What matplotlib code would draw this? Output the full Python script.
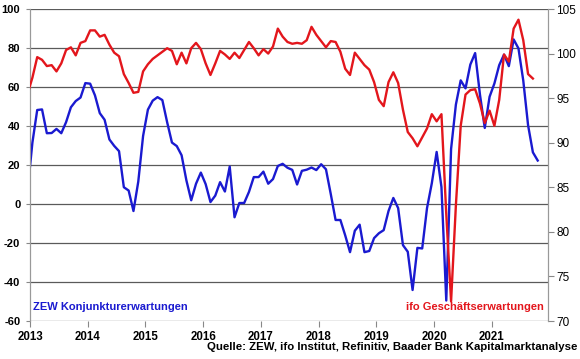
import matplotlib.pyplot as plt
import numpy as np

plt.rcParams["font.family"] = ["Liberation Sans", "DejaVu Sans"]

# monthly values, first point Dec 2012
START = (2012, 12)

ZEW = [
    6.9,
    31.5, 48.2, 48.5, 36.3, 36.4, 38.5, 36.3, 42.0, 49.6, 52.8, 54.6, 62.0,
    61.7, 55.7, 46.6, 43.2, 33.1, 29.8, 27.1, 8.6, 6.9, -3.6, 11.5, 34.9,
    48.4, 53.0, 54.8, 53.3, 41.9, 31.5, 29.7, 25.0, 12.1, 1.9, 10.4, 16.1,
    10.2, 1.0, 4.3, 11.2, 6.4, 19.2, -6.8, 0.5, 0.5, 6.2, 13.8, 13.8,
    16.6, 10.4, 12.8, 19.5, 20.6, 18.6, 17.5, 10.0, 17.0, 17.6, 18.7, 17.4,
    20.4, 17.8, 5.1, -8.2, -8.2, -16.1, -24.7, -13.7, -10.6, -24.7, -24.1, -17.5,
    -15.0, -13.4, -3.6, 3.1, -2.1, -21.1, -24.5, -44.1, -22.5, -22.8, -2.1, 10.7,
    26.7, 8.7, -49.5, 28.2, 51.0, 63.4, 59.3, 71.5, 77.4, 56.1, 39.0, 55.0,
    61.8, 71.2, 76.6, 70.7, 84.4, 79.8, 63.3, 40.4, 26.5, 22.3,
]

IFO = [
    95.5,
    97.3, 99.6, 99.3, 98.6, 98.7, 98.0, 98.9, 100.4, 100.7, 99.8, 101.2, 101.4,
    102.6, 102.6, 101.9, 102.1, 101.0, 100.1, 99.7, 97.7, 96.7, 95.6, 95.7, 98.0,
    98.8, 99.4, 99.8, 100.2, 100.6, 100.3, 98.8, 100.1, 98.9, 100.6, 101.2, 100.5,
    98.9, 97.6, 98.9, 100.3, 99.9, 99.4, 100.1, 99.5, 100.4, 101.3, 100.6, 99.8,
    100.5, 100.0, 100.8, 102.8, 101.9, 101.3, 101.1, 101.2, 101.1, 101.5, 103.0, 102.1,
    101.4, 100.7, 101.4, 101.3, 100.2, 98.3, 97.6, 100.1, 99.4, 98.7, 98.2, 96.8,
    94.8, 94.1, 96.8, 97.9, 96.7, 93.7, 91.2, 90.5, 89.6, 90.6, 91.6, 93.2,
    92.4, 93.2, 82.0, 72.2, 83.0, 91.9, 95.4, 95.9, 96.0, 94.4, 92.2, 93.6,
    91.9, 94.8, 99.9, 99.1, 102.8, 103.8, 101.5, 97.7, 97.2,
]

YEARS = list(range(2013, 2022))
LEFT_TICKS = list(range(-60, 101, 20))
RIGHT_TICKS = list(range(70, 106, 5))

BLUE = "#1a1ad0"
RED = "#e3161c"
GRID = "#5a5a5a"


def month_axis(n):
    y0, m0 = START
    idx = np.arange(n) + (m0 - 1)
    return y0 + (idx + 0.5) / 12


fig = plt.figure(figsize=(5.8, 3.59), dpi=100)
ax = fig.add_axes([30 / 580, 1 - 321 / 359, 518 / 580, 312 / 359])
ax2 = ax.twinx()

ax.set_xlim(2013, 2021.97)
ax.set_ylim(-60, 100)
ax2.set_ylim(70, 105)

for v in LEFT_TICKS:
    ax.axhline(v, color=GRID, linewidth=0.9, zorder=1)

ax.plot(month_axis(len(ZEW)), ZEW, color=BLUE, linewidth=1.7, zorder=3)
ax2.plot(month_axis(len(IFO)), IFO, color=RED, linewidth=1.7, zorder=3)

ax.set_yticks(LEFT_TICKS)
ax.set_yticklabels([str(v) for v in LEFT_TICKS], fontsize=8, fontweight="bold")
ax2.set_yticks(RIGHT_TICKS)
ax2.set_yticklabels([str(v) for v in RIGHT_TICKS], fontsize=8.5)
ax.set_xticks(YEARS)
ax.set_xticklabels([str(y) for y in YEARS], fontsize=8.3, fontweight="bold")

ax.tick_params(axis="y", length=3, width=0.8, color="#888", pad=4)
ax2.tick_params(axis="y", length=4, width=0.8, color="#888", pad=2)
ax.tick_params(axis="x", length=4, width=0.8, color="#888", pad=3)

for a in (ax, ax2):
    a.spines["top"].set_visible(False)
    a.spines["bottom"].set_visible(False)
    a.spines["left"].set_color("#999")
    a.spines["right"].set_color("#999")

ax.text(0.006, 0.028, "ZEW Konjunkturerwartungen", transform=ax.transAxes,
        color=BLUE, fontsize=8, fontweight="bold", ha="left", va="bottom")
ax.text(0.993, 0.028, "ifo Geschäftserwartungen", transform=ax.transAxes,
        color=RED, fontsize=8, fontweight="bold", ha="right", va="bottom")
fig.text(577 / 580, 1 - 347 / 359, "Quelle: ZEW, ifo Institut, Refinitiv, Baader Bank Kapitalmarktanalyse",
         fontsize=8.2, fontweight="bold", ha="right", va="center")

fig.savefig("out.png", dpi=100)
